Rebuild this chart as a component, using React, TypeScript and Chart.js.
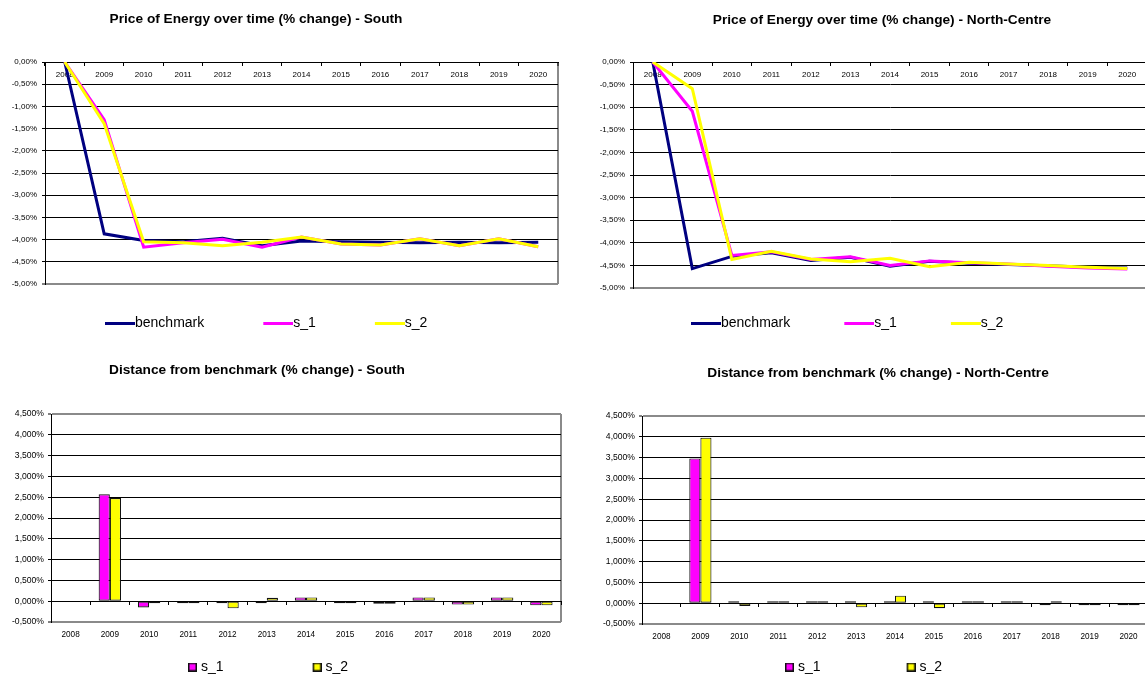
import React, { useEffect, useRef } from 'react';
import { Chart, registerables } from 'chart.js';

Chart.register(...registerables);

// ---------------- data ----------------
const years = ['2008', '2009', '2010', '2011', '2012', '2013', '2014', '2015', '2016', '2017', '2018', '2019', '2020'];

const southBenchmark = [0, -3.87, -4.02, -4.05, -3.97, -4.14, -4.03, -4.05, -4.06, -4.07, -4.06, -4.07, -4.06];
const southS1 = [0, -1.30, -4.17, -4.07, -3.99, -4.17, -3.94, -4.10, -4.12, -3.98, -4.14, -3.98, -4.16];
const southS2 = [0, -1.39, -4.05, -4.07, -4.14, -4.06, -3.94, -4.10, -4.12, -3.98, -4.14, -3.98, -4.16];

const northBenchmark = [0, -4.57, -4.30, -4.22, -4.39, -4.32, -4.52, -4.41, -4.45, -4.48, -4.51, -4.54, -4.56];
const northS1 = [0, -1.09, -4.28, -4.20, -4.37, -4.31, -4.50, -4.40, -4.44, -4.47, -4.52, -4.56, -4.58];
const northS2 = [0, -0.59, -4.37, -4.19, -4.36, -4.42, -4.34, -4.53, -4.43, -4.47, -4.50, -4.54, -4.57];

const southDist1 = [null, 2.57, -0.15, -0.02, -0.02, -0.03, 0.09, -0.05, -0.06, 0.09, -0.08, 0.09, -0.10];
const southDist2 = [null, 2.48, -0.03, -0.02, -0.17, 0.08, 0.09, -0.05, -0.06, 0.09, -0.08, 0.09, -0.10];

const northDist1 = [null, 3.48, 0.02, 0.02, 0.02, 0.01, 0.02, 0.01, 0.01, 0.01, -0.01, -0.02, -0.02];
const northDist2 = [null, 3.98, -0.07, 0.03, 0.03, -0.10, 0.18, -0.12, 0.02, 0.01, 0.01, -0.01, -0.01];

const lineTicksMin = -5;
const lineTicksMax = 0;
const barTicksMin = -0.5;
const barTicksMax = 4.5;
const tickStep = 0.5;

const titles = [
  'Price of Energy over time (% change) - South',
  'Price of Energy over time (% change) - North-Centre',
  'Distance from benchmark (% change) - South',
  'Distance from benchmark (% change) - North-Centre',
];

// ---------------- style ----------------
const FONT = "'Liberation Sans', Arial, Helvetica, sans-serif";
const NAVY = '#000080';
const MAGENTA = '#FF00FF';
const YELLOW = '#FFFF00';
const GRAY = '#8a8a8a';
const YW = 40;
const TITLE_SIZE = 13.7;
const LEGEND_SIZE = 14;
const LEGEND_PAD = 10;

type Geo = {
  x0: number; y0: number; w: number; h: number;
  pl: number; pr: number; pt: number; pb: number;
  tx: number; ty: number;
  lx: number; ly: number; gap: number;
};

const GEOS: Geo[] = [
  { x0: 0, y0: 0, w: 572, h: 345, pl: 45, pr: 558, pt: 62, pb: 284, tx: 256, ty: 19, lx: 135, ly: 323, gap: 89 },
  { x0: 572, y0: 0, w: 590, h: 345, pl: 633, pr: 1147, pt: 62, pb: 288, tx: 882, ty: 20, lx: 721, ly: 323, gap: 84 },
  { x0: 0, y0: 345, w: 572, h: 334, pl: 51, pr: 561, pt: 414, pb: 622, tx: 257, ty: 370, lx: 201, ly: 667, gap: 102 },
  { x0: 572, y0: 345, w: 590, h: 334, pl: 642, pr: 1148, pt: 416, pb: 624, tx: 878, ty: 373, lx: 798, ly: 667, gap: 99 },
];

function fmtPct(v: number, d: number) {
  let r = Math.round(v * 10000) / 10000;
  if (Math.abs(r) < 1e-9) r = 0;
  return r.toFixed(d).replace('.', ',') + '%';
}

function lineSwatch(color: string, W: number) {
  const c = document.createElement('canvas');
  const w = Math.round(W + LEGEND_SIZE);
  c.width = w;
  c.height = 3;
  const ctx = c.getContext('2d')!;
  ctx.fillStyle = color;
  ctx.fillRect(w - 30, 0, 30, 3);
  return c;
}

function boxSwatch(color: string, W: number) {
  const c = document.createElement('canvas');
  const w = Math.round(W + LEGEND_SIZE - 8);
  c.width = w;
  c.height = 9;
  const ctx = c.getContext('2d')!;
  ctx.fillStyle = '#111';
  ctx.fillRect(w - 9, 0, 9, 9);
  ctx.fillStyle = color;
  ctx.fillRect(w - 7.5, 1.5, 6, 6);
  return c;
}

const placer = {
  id: 'placer',
  afterLayout(chart: any, _args: any, o: any) {
    const t = chart.titleBlock;
    if (t && o && o.titleX != null) {
      const dx = o.titleX - (t.left + t.right) / 2;
      t.left += dx;
      t.right += dx;
      const h = t.bottom - t.top;
      t.top = o.titleY - h / 2;
      t.bottom = t.top + h;
    }
    const l = chart.legend;
    if (l && o && o.legendLeft != null) {
      const w = l.right - l.left;
      const h = l.bottom - l.top;
      l.left = o.legendLeft;
      l.right = l.left + w;
      l.top = o.legendTop;
      l.bottom = l.top + h;
    }
  },
};

function baseOptions(g: Geo, title: string, swatches: HTMLCanvasElement[], W: number) {
  const titleH = TITLE_SIZE * 1.2;
  const legendH = LEGEND_SIZE + LEGEND_PAD + 10;
  return {
    responsive: false,
    maintainAspectRatio: false,
    animation: false,
    devicePixelRatio: 1,
    events: [],
    layout: {
      padding: {
        left: g.pl - g.x0 - YW,
        right: g.x0 + g.w - g.pr,
        top: g.pt - g.y0 - titleH,
        bottom: g.y0 + g.h - g.pb - legendH,
      },
    },
    plugins: {
      tooltip: { enabled: false },
      title: {
        display: true,
        text: title,
        color: '#000',
        padding: 0,
        font: { family: FONT, size: TITLE_SIZE, weight: 'bold' },
      },
      legend: {
        display: true,
        position: 'bottom',
        align: 'start',
        fullSize: false,
        labels: {
          usePointStyle: true,
          pointStyleWidth: W,
          padding: LEGEND_PAD,
          color: '#000',
          font: { family: FONT, size: LEGEND_SIZE },
          sort: (a: any, b: any) => a.datasetIndex - b.datasetIndex,
          generateLabels: (chart: any) => {
            const items = (Chart as any).defaults.plugins.legend.labels.generateLabels(chart);
            return items.map((it: any) => ({ ...it, pointStyle: swatches[it.datasetIndex] }));
          },
        },
      },
      placer: {
        titleX: g.tx - g.x0,
        titleY: g.ty - g.y0,
        legendLeft: g.lx - g.x0 - W - LEGEND_SIZE / 2 - LEGEND_PAD,
        legendTop: g.ly - g.y0 - LEGEND_PAD - LEGEND_SIZE / 2,
      },
    },
  };
}

const rightBorderColor = (c: any) => (typeof c.index === 'number' ? 'rgba(0,0,0,0)' : GRAY);
const rightBorderWidth = (c: any) => (typeof c.index === 'number' ? 1 : 2);

function lineConfig(g: Geo, title: string, bench: number[], s1: number[], s2: number[]): any {
  const W = g.gap - LEGEND_SIZE / 2 - LEGEND_PAD;
  const swatches = [lineSwatch(NAVY, W), lineSwatch(MAGENTA, W), lineSwatch(YELLOW, W)];
  const opts: any = baseOptions(g, title, swatches, W);
  opts.scales = {
    x: {
      type: 'category',
      position: { y: 0 },
      offset: true,
      grid: {
        offset: true,
        drawOnChartArea: true,
        drawTicks: true,
        tickLength: 3,
        tickColor: '#000',
        tickWidth: 1,
        color: rightBorderColor,
        lineWidth: rightBorderWidth,
      },
      border: { display: true, color: '#000', width: 1 },
      ticks: { color: '#000', font: { family: FONT, size: 8 }, padding: 5, autoSkip: false, maxRotation: 0 },
    },
    y: {
      type: 'linear',
      min: lineTicksMin,
      max: lineTicksMax,
      afterFit: (s: any) => { s.width = YW; },
      ticks: {
        stepSize: tickStep,
        color: '#000',
        font: { family: FONT, size: 8 },
        padding: 5,
        callback: (v: any) => fmtPct(Number(v), 2),
      },
      grid: {
        color: (c: any) => (c.tick && Math.abs(c.tick.value - lineTicksMin) < 1e-6 ? GRAY : '#000'),
        lineWidth: (c: any) => (c.tick && Math.abs(c.tick.value - lineTicksMin) < 1e-6 ? 2 : 1),
        tickLength: 3,
        tickColor: '#000',
        tickWidth: 1,
      },
      border: { display: true, color: '#000', width: 1 },
    },
  };
  const ds = (label: string, data: number[], color: string, order: number) => ({
    label,
    data,
    borderColor: color,
    backgroundColor: color,
    borderWidth: 3,
    pointRadius: 0,
    tension: 0,
    fill: false,
    order,
  });
  return {
    type: 'line',
    data: {
      labels: years,
      datasets: [ds('benchmark', bench, NAVY, 2), ds('s_1', s1, MAGENTA, 1), ds('s_2', s2, YELLOW, 0)],
    },
    options: opts,
    plugins: [placer],
  };
}

function barConfig(g: Geo, title: string, d1: (number | null)[], d2: (number | null)[]): any {
  const W = g.gap - LEGEND_SIZE / 2 - LEGEND_PAD;
  const swatches = [boxSwatch(MAGENTA, W), boxSwatch(YELLOW, W)];
  const opts: any = baseOptions(g, title, swatches, W);
  opts.scales = {
    x: {
      type: 'category',
      position: { y: barTicksMin },
      offset: true,
      grid: {
        offset: true,
        drawOnChartArea: true,
        drawTicks: false,
        color: rightBorderColor,
        lineWidth: rightBorderWidth,
      },
      border: { display: false },
      ticks: { color: '#000', font: { family: FONT, size: 8.2 }, padding: 8, autoSkip: false, maxRotation: 0 },
    },
    x2: {
      type: 'category',
      axis: 'x',
      position: { y: 0 },
      offset: true,
      grid: {
        offset: true,
        drawOnChartArea: false,
        drawTicks: true,
        tickLength: 3,
        tickColor: '#000',
        tickWidth: 1,
      },
      border: { display: true, color: '#000', width: 1 },
      ticks: { display: false },
    },
    y: {
      type: 'linear',
      min: barTicksMin,
      max: barTicksMax,
      afterFit: (s: any) => { s.width = YW; },
      ticks: {
        stepSize: tickStep,
        color: '#000',
        font: { family: FONT, size: 8.6 },
        padding: 4,
        callback: (v: any) => fmtPct(Number(v), 3),
      },
      grid: {
        color: (c: any) =>
          c.tick && (Math.abs(c.tick.value - barTicksMin) < 1e-6 || Math.abs(c.tick.value - barTicksMax) < 1e-6) ? GRAY : '#000',
        lineWidth: (c: any) =>
          c.tick && (Math.abs(c.tick.value - barTicksMin) < 1e-6 || Math.abs(c.tick.value - barTicksMax) < 1e-6) ? 2 : 1,
        tickLength: 3,
        tickColor: '#000',
        tickWidth: 1,
      },
      border: { display: true, color: '#000', width: 1 },
    },
  };
  const ds = (label: string, data: (number | null)[], color: string) => ({
    label,
    data,
    backgroundColor: color,
    borderColor: '#111',
    borderWidth: 1.1,
    borderSkipped: false,
    minBarLength: 2,
    barPercentage: 1,
    categoryPercentage: 0.57,
  });
  return {
    type: 'bar',
    data: {
      labels: years,
      datasets: [ds('s_1', d1, MAGENTA), ds('s_2', d2, YELLOW)],
    },
    options: opts,
    plugins: [placer],
  };
}

export default function App() {
  const r0 = useRef<HTMLCanvasElement>(null);
  const r1 = useRef<HTMLCanvasElement>(null);
  const r2 = useRef<HTMLCanvasElement>(null);
  const r3 = useRef<HTMLCanvasElement>(null);
  const refs = [r0, r1, r2, r3];

  useEffect(() => {
    const configs = [
      lineConfig(GEOS[0], titles[0], southBenchmark, southS1, southS2),
      lineConfig(GEOS[1], titles[1], northBenchmark, northS1, northS2),
      barConfig(GEOS[2], titles[2], southDist1, southDist2),
      barConfig(GEOS[3], titles[3], northDist1, northDist2),
    ];
    const charts = configs.map((cfg, i) => new Chart(refs[i].current as HTMLCanvasElement, cfg));
    return () => charts.forEach((c) => c.destroy());
  }, []);

  return (
    <div style={{ position: 'fixed', left: 0, top: 0, width: 1145, height: 679, overflow: 'hidden', background: '#fff' }}>
      {GEOS.map((g, i) => (
        <canvas
          key={i}
          ref={refs[i]}
          width={g.w}
          height={g.h}
          style={{ position: 'absolute', left: g.x0, top: g.y0, width: g.w, height: g.h }}
        />
      ))}
    </div>
  );
}
